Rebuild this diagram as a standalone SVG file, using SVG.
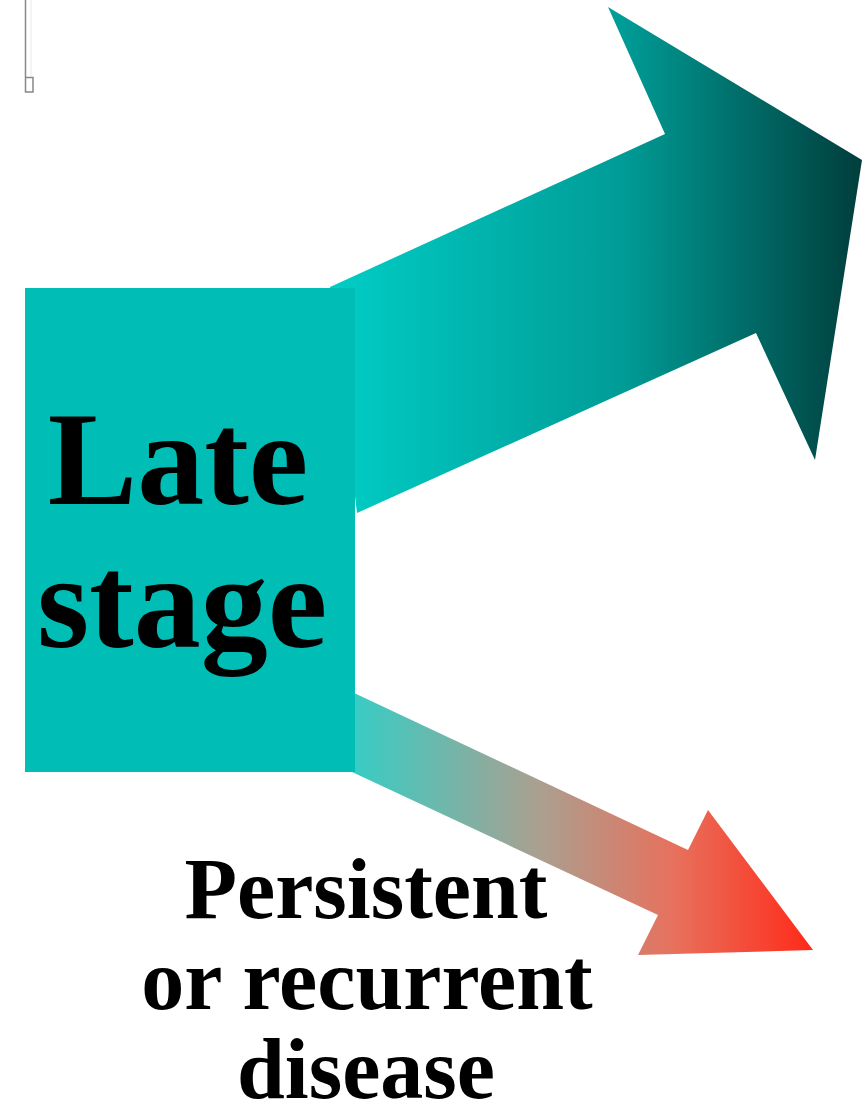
<svg xmlns="http://www.w3.org/2000/svg" width="862" height="1119" viewBox="0 0 862 1119">
  <defs>
    <linearGradient id="gTop" gradientUnits="userSpaceOnUse" x1="330" y1="0" x2="862" y2="0">
      <stop offset="0" stop-color="#00CEC6"/>
      <stop offset="0.55" stop-color="#009C96"/>
      <stop offset="1" stop-color="#003E3C"/>
    </linearGradient>
    <linearGradient id="gLow" gradientUnits="userSpaceOnUse" x1="355" y1="0" x2="813" y2="0">
      <stop offset="0" stop-color="#38CCC4"/>
      <stop offset="0.4" stop-color="#AAA090"/>
      <stop offset="0.7" stop-color="#E8705C"/>
      <stop offset="1" stop-color="#FF2A18"/>
    </linearGradient>
    <style>
      .big { font-family: "Liberation Serif", "Times New Roman", serif; font-weight: bold; fill: #000; text-anchor: middle; }
    </style>
  </defs>
  <rect width="862" height="1119" fill="#fff"/>
  <g id="corner-mark" fill="none" stroke="#888" stroke-width="1.5">
    <path d="M25.5 0 V92 H33 V77.5 H25.5"/>
    <path d="M31 0 V77" stroke="#e8e8e8" stroke-width="1"/>
  </g>
  <g id="connectors">
    <path id="arrow-up" d="M330 287 L665 134 L608 7 L862 160 L815 460 L756 333 L357 513 Z" fill="url(#gTop)"/>
    <path id="arrow-down" d="M352 692 L688 850 L708 810 L813 950 L638 955 L658 915 L352 772 Z" fill="url(#gLow)"/>
  </g>
  <g id="late-stage">
    <rect x="25" y="288" width="330" height="484" fill="#00BDB6"/>
    <text class="big" x="178" y="504" font-size="134">Late</text>
    <text class="big" x="182" y="647" font-size="134">stage</text>
  </g>
  <g id="persistent">
    <text class="big" x="366" y="918" font-size="86">Persistent</text>
    <text class="big" x="367" y="1009" font-size="86">or recurrent</text>
    <text class="big" x="366" y="1098" font-size="86">disease</text>
  </g>
</svg>
